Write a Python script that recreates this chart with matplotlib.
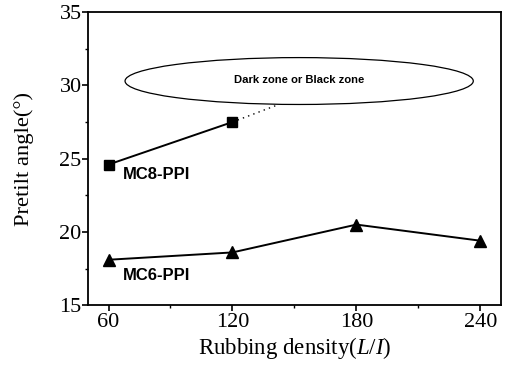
import matplotlib
matplotlib.use("Agg")
import matplotlib.pyplot as plt
import matplotlib.patches as mpatch
import numpy as np

plt.rcParams['mathtext.fontset'] = 'custom'
plt.rcParams['mathtext.it'] = 'Liberation Serif:italic'
plt.rcParams['mathtext.rm'] = 'Liberation Serif'

density = [60, 120, 180, 240]
mc8_x = [60, 120]
mc8_y = [24.6, 27.5]
mc8_trend_x = [120, 141.5]
mc8_trend_y = [27.5, 28.65]
mc6_y = [18.1, 18.6, 20.5, 19.4]

fig = plt.figure(figsize=(5.05, 3.69), dpi=100)
ax = fig.add_axes([0.174, 0.173, 0.818, 0.794])

ax.plot(mc8_x, mc8_y, color='black', lw=1.4, marker='s', ms=7)
ax.plot(mc8_trend_x, mc8_trend_y, color='black', lw=1.0, ls=(0, (1, 3)))
ax.plot(density, mc6_y, color='black', lw=1.4, marker='^', ms=8)

ell = mpatch.Ellipse((152.3, 30.3), 168.6, 3.2, facecolor='white', edgecolor='black', lw=0.9)
ax.add_patch(ell)
ax.text(152.3, 30.35, "Dark zone or Black zone", ha='center', va='center',
        fontsize=8.1, fontweight='bold', family='Liberation Sans')
ax.text(67.0, 23.9, "MC8-PPI", ha='left', va='center', fontsize=12,
        fontweight='bold', family='Liberation Sans')
ax.text(67.0, 17.0, "MC6-PPI", ha='left', va='center', fontsize=12,
        fontweight='bold', family='Liberation Sans')

ax.set_xlim(50, 250)
ax.set_ylim(15, 35)
ax.set_xticks(density)
ax.set_xticks([90, 150, 210], minor=True)
ax.set_yticks([15, 20, 25, 30, 35])
ax.set_yticks([17.5, 22.5, 27.5, 32.5], minor=True)
ax.tick_params(which='major', direction='out', length=4, width=1.2, labelsize=16, pad=2)
ax.tick_params(axis='y', which='major', pad=0.5)
ax.tick_params(which='minor', direction='out', length=2.5, width=1.0)
for lab in ax.get_xticklabels() + ax.get_yticklabels():
    lab.set_family('Liberation Serif')
for s in ax.spines.values():
    s.set_linewidth(1.3)

ax.set_xlabel("Rubbing density($\\mathit{L/I}$)", family='Liberation Serif', fontsize=16.5, labelpad=2)
ax.set_ylabel("Pretilt angle(°)", family='Liberation Serif', fontsize=16.2, labelpad=18)

fig.savefig("out.png", dpi=100)
